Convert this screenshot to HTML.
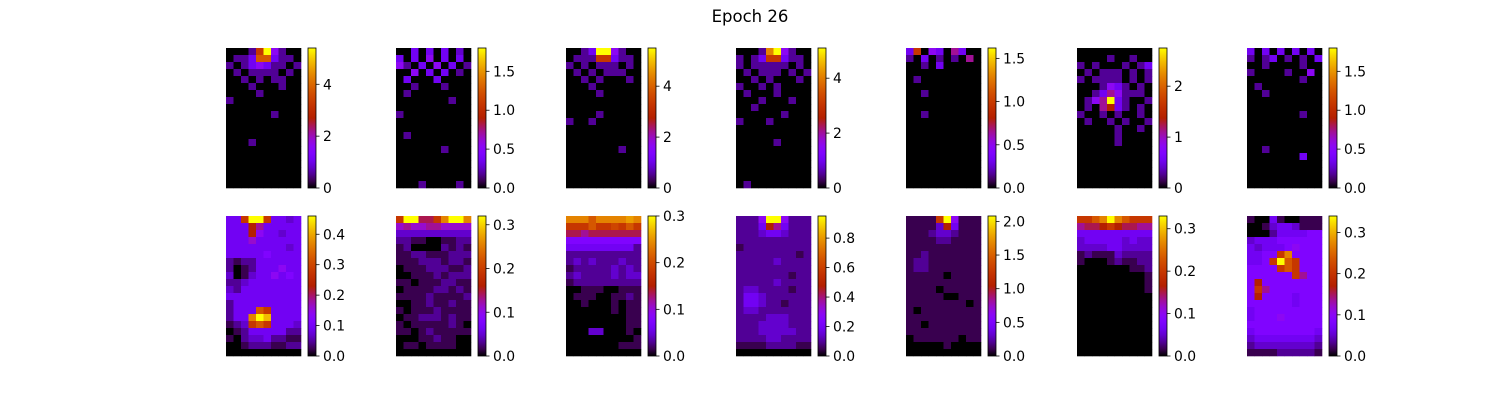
<!DOCTYPE html>
<html><head><meta charset="utf-8">
<style>
html,body{margin:0;padding:0;background:#fff;}
svg{display:block;font-family:"DejaVu Sans","Liberation Sans",sans-serif;}
</style></head>
<body>
<svg id="fig" width="1500" height="400" viewBox="0 0 1500 400" xmlns="http://www.w3.org/2000/svg">
<rect width="1500" height="400" fill="#fff"/>
<text x="750" y="22" text-anchor="middle" font-size="16.5">Epoch 26</text>
</svg>
<script>
// Panel data: each grid is rows of base-36 chars; level = char/20 of panel max
const topMax = [5.4, 1.8, 5.5, 5.1, 1.62, 2.75, 1.8];
const botMax = [0.46, 0.32, 0.30, 0.95, 2.08, 0.33, 0.34];
const topTicks = [["0","2","4"],["0.0","0.5","1.0","1.5"],["0","2","4"],["0","2","4"],["0.0","0.5","1.0","1.5"],["0","1","2"],["0.0","0.5","1.0","1.5"]];
const botTicks = [["0.0","0.1","0.2","0.3","0.4"],["0.0","0.1","0.2","0.3"],["0.0","0.1","0.2","0.3"],["0.0","0.2","0.4","0.6","0.8"],["0.0","0.5","1.0","1.5","2.0"],["0.0","0.1","0.2","0.3"],["0.0","0.1","0.2","0.3"]];
const Z = "0000000000";
const topGrids = [
["0002ck6200","0224ee4220","2024642202","0202222020","0020202200","0002000200","0000200000","2000000000",Z,"0000002000",Z,Z,Z,"0002000000",Z,Z,Z,Z,Z,Z],
["0040404030","4040604040","6204060402","0060404020","0400040000","0020002000","0200000000","0000000200","0000000000","2000000000",Z,Z,"0200000000",Z,"0000002000",Z,Z,Z,Z,"0002000020"],
["0024kk6200","0222cc4220","2020222020","0202022200","0020200020","0002000000","0000200000",Z,"0000000000","0000200000","2002000000",Z,Z,Z,"0000000200",Z,Z,Z,Z,Z],
["0002gk6200","2024cc4220","2022222020","0202220202","0020200020","2002020000","0200020000","0002000200","0020000000","0000002000","2000200000",Z,Z,"0000020000",Z,Z,Z,Z,Z,"0200000000"],
["4c06408400","2040202080","0020400000","0000000000","0200000000",Z,"0020000000",Z,Z,"0020000000",Z,Z,Z,Z,Z,Z,Z,Z,Z,Z],
["0000000000","0000200200","2020002024","0202220202","2022220202","0002642020","0024862220","0268k42002","0208a42020","2002020020","0200202002","0000020020","0000020000","0000020000",Z,Z,Z,Z,Z,Z],
["4040404040","2024020204","0020000200","2000020060","0000000200","0200000000","0020000000",Z,Z,"0000000200",Z,Z,Z,Z,"0020000000","0000000400",Z,Z,Z,Z]
];
const botGrids = [
["44ckkc4434","444a844444","444a644344","4447444444","4444444434","4444454444","2122444444","2012444644","3013446454","2234444444","3244444444","4444444444","2444444444","2444ec4444","244gki4444","123cec4443","0124444422","1023342211","0012221122","0000000000"],
["ckk99cgkkg","7877887777","3333333333","2211001122","1200002121","1122111222","1112221221","0111222112","0011121222","1101112211","0111122121","1111211112","0011211211","1011121111","0112221211","1011111210","1101211111","0001121100","0110111100","0000000000"],
["gggegggghg","ccceccdcec","9989999999","5555555555","4444444442","2222222222","2323222322","1222223232","2322223233","1222222222","0011100111","0111001121","0010001011","0000001011","0000000011","0000000011","0003300010","0000000001","0000000111","0000000000"],
["2226kk6222","2224a84222","2223443222","2222222222","1222222222","2222222212","2222232222","2222222222","2222222122","2222232222","2332222122","2443222222","2443221222","2332222222","2222333222","2223333222","2223333322","2222332222","1111222211","0000000000"],
["1111ck6111","11113a4111","1112332111","1111221111","1111111111","1121111111","1221111111","1221111111","1111101111","1111111111","1111011111","1111100111","1111111101","1011111111","1111111111","1101111111","1111111111","0111111011","0000010000","0000000000"],
["ccegkgeccc","899aca9988","4444444444","3444443433","3333443333","1211132222","1000121122","0000000112","0000000001","0000000001","0000000001","0000000000","0000000000","0000000000","0000000000","0000000000","0000000000","0000000000","0000000000","0000000000"],
["1004100111","0013443111","0002444455","3444555555","4344456555","4455cg5555","445ckec555","5555cec555","555555c855","5a55555555","5c85555555","5a55554555","5555554555","4555555555","4555655555","5555555555","4555555554","3444444443","2333333332","1111222221"]
];

const NS = "http://www.w3.org/2000/svg";
const svg = document.getElementById('fig');
const colX = [226, 396, 566, 736, 906, 1077, 1247];
const rowY = [48, 216];
const W = 75, H = 140;

function cmap(t) { // matplotlib "gnuplot"
  t = Math.max(0, Math.min(1, t));
  const r = Math.sqrt(t), g = t*t*t, b = Math.max(0, Math.sin(2*Math.PI*t));
  return `rgb(${Math.round(r*255)},${Math.round(g*255)},${Math.round(b*255)})`;
}
function mk(tag, attrs) {
  const e = document.createElementNS(NS, tag);
  for (const k in attrs) e.setAttribute(k, attrs[k]);
  return e;
}
const defs = mk('defs', {});
const grad = mk('linearGradient', {id: 'cmapgrad', x1: '0', y1: '1', x2: '0', y2: '0'});
for (let i = 0; i <= 20; i++) {
  grad.appendChild(mk('stop', {offset: (i/20), 'stop-color': cmap(i/20)}));
}
defs.appendChild(grad);
svg.appendChild(defs);

function drawPanel(grid, max, ticks, x0, y0, name) {
  const g = mk('g', {});
  
  
  const rows = grid.length, cols = grid[0].length;
  const cw = W / cols, ch = H / rows;
  const xs = c => x0 + c * cw;
  const ys = r => y0 + r * ch;
  const hm = mk('g', {});
  
  
  grid.forEach((row, r) => {
    for (let c = 0; c < cols; c++) {
      const v = parseInt(row[c], 36) / 20 * max;
      const cell = mk('rect', {x: xs(c).toFixed(2), y: ys(r).toFixed(2), width: (cw + 0.3).toFixed(2), height: (ch + 0.3).toFixed(2), fill: cmap(v / max)});
      
      
      hm.appendChild(cell);
    }
  });
  g.appendChild(hm);
  const cbx = x0 + 82, cbw = 8;
  const cb = mk('rect', {x: cbx, y: y0, width: cbw, height: H, fill: 'url(#cmapgrad)', stroke: '#000', 'stroke-width': 0.8});
  
  
  g.appendChild(cb);
  const cy = v => y0 + H - v / max * H;
  ticks.forEach(t => {
    const y = cy(parseFloat(t));
    const tl = mk('line', {x1: cbx + cbw, x2: cbx + cbw + 3.5, y1: y, y2: y, stroke: '#000', 'stroke-width': 0.8});
    
    
    g.appendChild(tl);
    const tx = mk('text', {x: cbx + cbw + 7, y: y + 5, 'font-size': 13.9, fill: '#000'});
    
    
    tx.textContent = t;
    g.appendChild(tx);
  });
  svg.appendChild(g);
}
for (let i = 0; i < 7; i++) {
  drawPanel(topGrids[i], topMax[i], topTicks[i], colX[i], rowY[0], 'top-panel-' + (i+1));
  drawPanel(botGrids[i], botMax[i], botTicks[i], colX[i], rowY[1], 'bottom-panel-' + (i+1));
}
</script>
</body></html>
